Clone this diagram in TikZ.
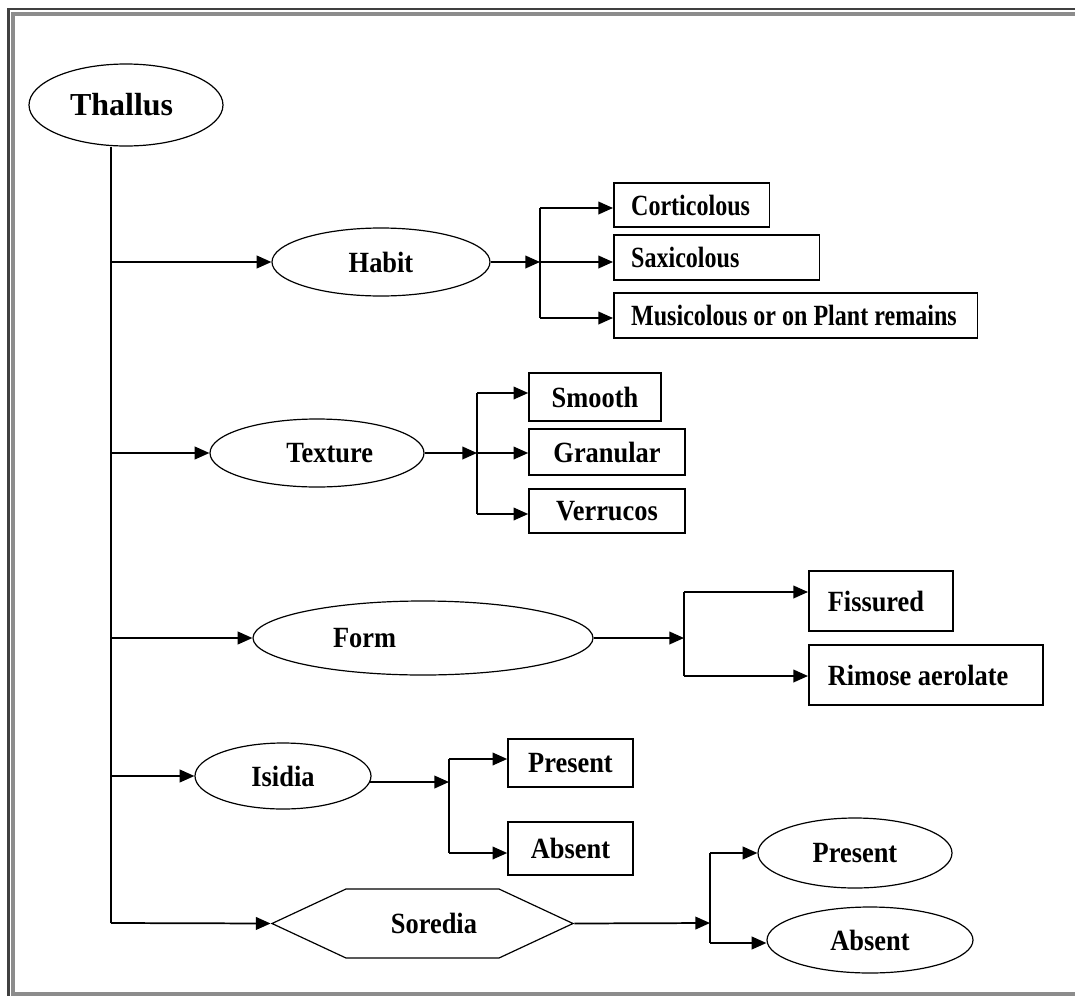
\documentclass[tikz,border=0pt]{standalone}
\usepackage{fontspec}
\setmainfont{Liberation Serif}[FakeStretch=0.9]
\newfontfamily\narrowfont{Liberation Serif}[FakeStretch=0.82]
\newfontfamily\titlefont{Liberation Serif}
\usetikzlibrary{shapes.geometric,shapes.symbols,arrows.meta}
\newcommand\lefttext[2]{\makebox[#1][l]{#2}}
\begin{document}
\begin{tikzpicture}[x=0.75pt,y=-0.75pt,
  every node/.style={font=\fontsize{22}{24}\selectfont\bfseries, inner sep=0pt},
  oval/.style={draw, ellipse, line width=0.9pt},
  box/.style={draw, rectangle, line width=1.2pt},
  lbox/.style={box, anchor=west, inner xsep=13pt},
  cbox/.style={box},
  link/.style={line width=1.3pt},
  arr/.style={link, -{Triangle[length=11pt,width=9.5pt]}},
]
\useasboundingbox (0,0) rectangle (1075,996);

% page frame
\draw[line width=1.6pt, black!75] (8.5,9) rectangle (1095,1010);
\draw[line width=2.4pt, black!45] (13,14) rectangle (1090,994);

% root
\node[oval, minimum width=145.5pt, minimum height=61.5pt,
      font=\fontsize{24}{26}\titlefont\bfseries] (thallus) at (126,105)
      {\makebox[84pt][l]{Thallus}};

% first level
\node[oval, minimum width=163.5pt, minimum height=51pt] (habit) at (381,262) {Habit};
\node[oval, minimum width=160.5pt, minimum height=51pt] (texture) at (317,453)
      {\makebox[84pt][r]{Texture}};
\node[oval, minimum width=255pt, minimum height=55.5pt] (form) at (423,638)
      {\makebox[135pt][l]{Form}};
\node[oval, minimum width=132pt, minimum height=49.5pt] (isidia) at (283,776) {Isidia};
\node[draw, signal, signal to=west and east, signal pointer angle=50,
      line width=0.9pt, minimum width=225.75pt, minimum height=51.75pt]
      (soredia) at (422.5,923.5) {\makebox[81.75pt][r]{Soredia}};

% habit leaves
\node[lbox, minimum height=33pt, font=\fontsize{22}{24}\narrowfont\bfseries] (cort) at (613,205)
      {\lefttext{90.75pt}{Corticolous}};
\node[lbox, minimum height=33.75pt, font=\fontsize{22}{24}\narrowfont\bfseries] (saxi) at (613,257.5)
      {\lefttext{128.25pt}{Saxicolous}};
\node[lbox, minimum height=33.75pt, font=\fontsize{22}{24}\narrowfont\bfseries] (musi) at (613,315.5)
      {\lefttext{246.75pt}{Musicolous or on Plant remains}};

% texture leaves
\node[cbox, minimum width=99pt, minimum height=36pt] (smooth) at (595,397) {Smooth};
\node[cbox, minimum width=117pt, minimum height=34.5pt] (gran) at (607,452) {Granular};
\node[cbox, minimum width=117pt, minimum height=33pt] (verr) at (607,511) {Verrucos};

% form leaves
\node[lbox, inner xsep=14.25pt, minimum height=45pt] (fiss) at (808,601)
      {\lefttext{79.5pt}{Fissured}};
\node[lbox, inner xsep=14.25pt, minimum height=45pt] (rimo) at (808,675)
      {\lefttext{147pt}{Rimose aerolate}};

% isidia leaves
\node[cbox, minimum width=93.75pt, minimum height=36pt] (ipres) at (570.5,763) {Present};
\node[cbox, minimum width=93.75pt, minimum height=39.75pt] (iabs) at (570.5,848.5) {Absent};

% soredia leaves
\node[oval, minimum width=145.5pt, minimum height=52.5pt] (spres) at (855,853) {Present};
\node[oval, minimum width=154.5pt, minimum height=49.5pt] (sabs) at (870,940) {Absent};

% trunk
\coordinate (t1) at (111,262);
\coordinate (t2) at (111,453);
\coordinate (t3) at (111,638);
\coordinate (t4) at (111,776);
\coordinate (t5) at (111,923);
\draw[link] (thallus.south -| t5) -- (t5);
\draw[arr] (t1) -- (habit.west);
\draw[arr] (t2) -- (texture.west);
\draw[arr] (t3) -- (form.west);
\draw[arr] (t4) -- (isidia.west);
\draw[arr] (t5) -- (soredia.west);

% habit junction
\coordinate (ha) at (540,208);
\coordinate (hb) at (540,262);
\coordinate (hc) at (540,318);
\draw[arr] (habit.east) -- (hb);
\draw[link] (ha) -- (hc);
\draw[arr] (ha) -- (ha -| cort.west);
\draw[arr] (hb) -- (hb -| saxi.west);
\draw[arr] (hc) -- (hc -| musi.west);

% texture junction
\coordinate (xa) at (477,393);
\coordinate (xb) at (477,453);
\coordinate (xc) at (477,514);
\draw[arr] (texture.east) -- (xb);
\draw[link] (xa) -- (xc);
\draw[arr] (xa) -- (xa -| smooth.west);
\draw[arr] (xb) -- (xb -| gran.west);
\draw[arr] (xc) -- (xc -| verr.west);

% form junction
\coordinate (fa) at (684,592);
\coordinate (fb) at (684,638);
\coordinate (fc) at (684,676);
\draw[arr] (form.east) -- (fb);
\draw[link] (fa) -- (fc);
\draw[arr] (fa) -- (fa -| fiss.west);
\draw[arr] (fc) -- (fc -| rimo.west);

% isidia junction
\coordinate (ia) at (449,759);
\coordinate (ib) at (449,782);
\coordinate (ic) at (449,853);
\draw[arr] (isidia.-4) -- (ib);
\draw[link] (ia) -- (ic);
\draw[arr] (ia) -- (ia -| ipres.west);
\draw[arr] (ic) -- (ic -| iabs.west);

% soredia junction
\coordinate (sa) at (710,853);
\coordinate (sb) at (710,923);
\coordinate (sc) at (710,943);
\draw[arr] (soredia.east) -- (sb);
\draw[link] (sa) -- (sc);
\draw[arr] (sa) -- (spres.west);
\draw[arr] (sc) -- (sc -| sabs.west);
\end{tikzpicture}
\end{document}
